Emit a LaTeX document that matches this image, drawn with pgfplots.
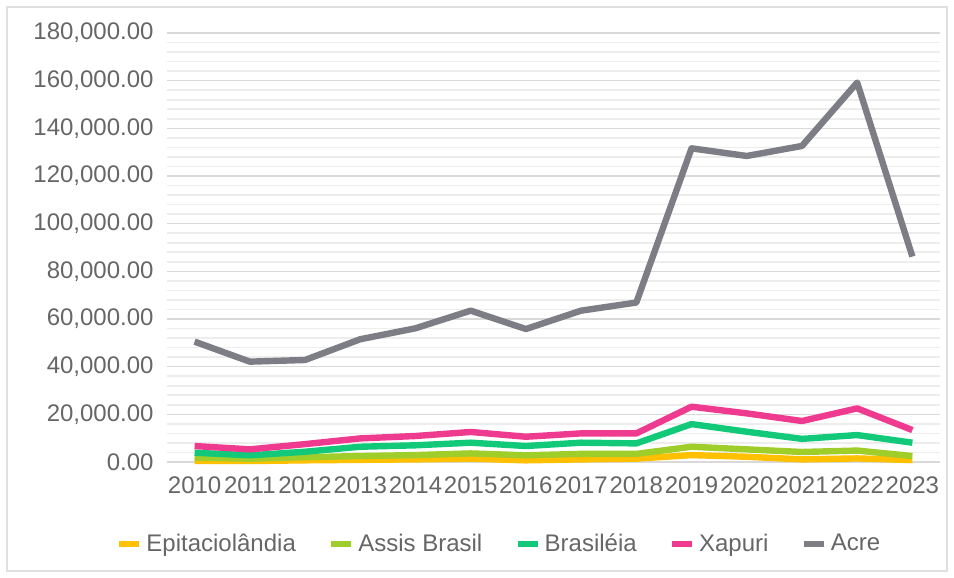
\documentclass[border=0pt]{standalone}
\usepackage{pgfplots}
\pgfplotsset{compat=1.18}
\usepackage{fontspec}
\setmainfont{Liberation Sans}
\definecolor{cEpi}{HTML}{FFC000}
\definecolor{cAssis}{HTML}{9FCD2A}
\definecolor{cBras}{HTML}{12C97A}
\definecolor{cXap}{HTML}{EE3A8F}
\definecolor{cAcre}{HTML}{7D7D86}
\definecolor{ctick}{HTML}{666666}
\begin{document}
\begin{tikzpicture}
\path (0pt,0pt) rectangle (477pt,289pt);
\draw[color=black!12, line width=0.6pt] (3.5pt,3.5pt) rectangle (473.5pt,285.5pt);
\begin{axis}[
  at={(83.5pt,58pt)}, anchor=south west,
  scale only axis, width=386.5pt, height=214.5pt,
  xmin=-0.5, xmax=13.5, ymin=0, ymax=180000,
  xtick={0,...,13},
  xticklabels={2010,2011,2012,2013,2014,2015,2016,2017,2018,2019,2020,2021,2022,2023},
  ytick={0,20000,...,180000},
  minor y tick num=4,
  ymajorgrids, yminorgrids,
  major grid style={color=black!15, line width=0.8pt},
  minor grid style={color=black!7, line width=0.8pt},
  axis line style={draw=none},
  major tick length=0pt, minor tick length=0pt,
  scaled y ticks=false,
  font=\fontsize{12}{14}\selectfont,
  tick label style={color=ctick},
  xticklabel style={yshift=-3.6pt},
  yticklabel style={xshift=-3.2pt},
  yticklabel style={/pgf/number format/.cd, fixed, fixed zerofill, precision=2, 1000 sep={,}, assume math mode=true},
  legend columns=-1,
  legend style={at={(0.431,-0.191)}, anchor=center, draw=none, fill=none,
    font=\fontsize{12}{14}\selectfont, text=ctick,
    /tikz/every even column/.append style={column sep=14pt}},
  legend image code/.code={\draw[#1, line width=3.2pt] (0pt,0pt) -- (10pt,0pt);},
  every axis plot/.append style={line width=3.2pt, line join=round, no markers},
  clip=false,
]
\addplot[cEpi] coordinates {(0,500) (1,400) (2,700) (3,900) (4,1100) (5,1400) (6,700) (7,1100) (8,1400) (9,2900) (10,2200) (11,1100) (12,1500) (13,800)};
\addlegendentry{Epitaciolândia}
\addplot[cAssis] coordinates {(0,1800) (1,1400) (2,2000) (3,2500) (4,2900) (5,3600) (6,2800) (7,3400) (8,3400) (9,6400) (10,5300) (11,4200) (12,4800) (13,2500)};
\addlegendentry{Assis Brasil}
\addplot[cBras] coordinates {(0,3900) (1,2800) (2,4300) (3,6400) (4,7000) (5,8100) (6,6700) (7,8100) (8,7800) (9,15900) (10,12700) (11,9700) (12,11300) (13,8100)};
\addlegendentry{Brasiléia}
\addplot[cXap] coordinates {(0,6700) (1,5300) (2,7500) (3,9900) (4,10900) (5,12600) (6,10600) (7,12000) (8,12000) (9,23200) (10,20400) (11,17200) (12,22500) (13,13400)};
\addlegendentry{Xapuri}
\addplot[cAcre] coordinates {(0,50500) (1,42100) (2,42800) (3,51500) (4,56100) (5,63500) (6,55800) (7,63500) (8,66900) (9,131600) (10,128400) (11,132600) (12,159200) (13,86200)};
\addlegendentry{Acre}
\end{axis}
\end{tikzpicture}
\end{document}
